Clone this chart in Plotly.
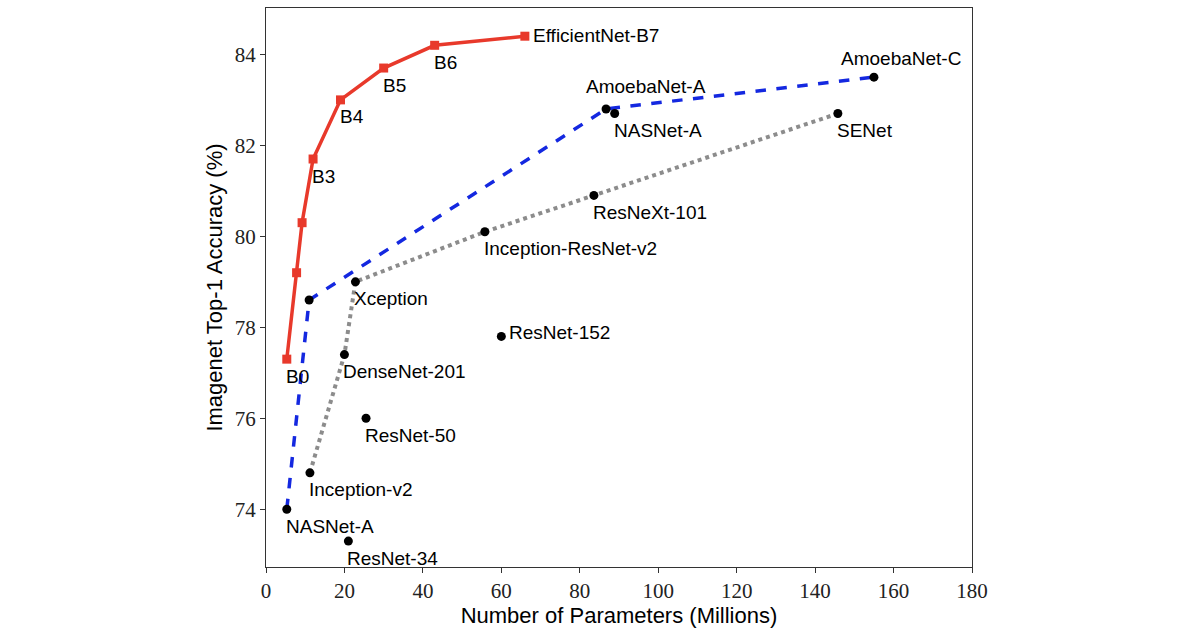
import plotly.graph_objects as go

# EfficientNet family
eff_names = ["B0", "B1", "B2", "B3", "B4", "B5", "B6", "EfficientNet-B7"]
eff_params = [5.3, 7.8, 9.2, 12, 19, 30, 43, 66]
eff_acc = [77.3, 79.2, 80.3, 81.7, 83.0, 83.7, 84.2, 84.4]
eff_show = [True, False, False, True, True, True, True, True]

# NASNet / AmoebaNet frontier (blue dashed)
nas_names = ["NASNet-A", "", "AmoebaNet-A", "AmoebaNet-C"]
nas_params = [5.3, 11, 86.7, 155]
nas_acc = [74.0, 78.6, 82.8, 83.5]

# Hand-designed frontier (gray dotted)
hand_names = ["Inception-v2", "DenseNet-201", "Xception", "Inception-ResNet-v2", "ResNeXt-101", "SENet"]
hand_params = [11.2, 20, 22.8, 55.8, 83.6, 145.8]
hand_acc = [74.8, 77.4, 79.0, 80.1, 80.9, 82.7]

# Other models (points only)
other_names = ["NASNet-A", "ResNet-152", "ResNet-50", "ResNet-34"]
other_params = [88.9, 60, 25.5, 21]
other_acc = [82.7, 77.8, 76.0, 73.3]

RED = "#e8392b"
BLUE = "#1428e0"
GRAY = "#8c8c8c"

fig = go.Figure()

fig.add_trace(go.Scatter(x=hand_params, y=hand_acc, mode="lines",
                         line=dict(color=GRAY, width=4, dash="dot"), showlegend=False))
fig.add_trace(go.Scatter(x=nas_params, y=nas_acc, mode="lines",
                         line=dict(color=BLUE, width=3.5, dash="dash"), showlegend=False))
fig.add_trace(go.Scatter(x=eff_params, y=eff_acc, mode="lines+markers",
                         line=dict(color=RED, width=3.5),
                         marker=dict(symbol="square", size=9, color=RED), showlegend=False))
fig.add_trace(go.Scatter(x=hand_params + nas_params + other_params,
                         y=hand_acc + nas_acc + other_acc, mode="markers",
                         marker=dict(color="black", size=9), showlegend=False))

label_font = dict(family="Liberation Sans, Arial, sans-serif", size=19, color="black")

def add_label(x, y, text, xshift=-1, yshift=-17):
    fig.add_annotation(x=x, y=y, text=text, showarrow=False, xanchor="left",
                       yanchor="middle", xshift=xshift, yshift=yshift, font=label_font)

special = {
    "EfficientNet-B7": (6, 1),
    "ResNet-152": (6, 4),
    "AmoebaNet-A": (-22, 22),
    "AmoebaNet-C": (-35, 19),
}

for n, x, y, s in zip(eff_names, eff_params, eff_acc, eff_show):
    if s:
        xs, ys = special.get(n, (-3, -17))
        add_label(x, y, n, xs, ys)
for names, xs_, ys_ in [(nas_names, nas_params, nas_acc),
                        (hand_names, hand_params, hand_acc),
                        (other_names, other_params, other_acc)]:
    for n, x, y in zip(names, xs_, ys_):
        if n:
            xs, ys = special.get(n, (-3, -17))
            add_label(x, y, n, xs, ys)

tick_font = dict(family="Liberation Serif, serif", size=21, color="#222")
title_font = dict(family="Liberation Sans, Arial, sans-serif", size=22, color="black")

fig.update_layout(
    width=1200, height=630,
    margin=dict(l=266, r=228, t=7, b=62),
    paper_bgcolor="white", plot_bgcolor="white",
    xaxis=dict(range=[0, 180], tickvals=[0, 20, 40, 60, 80, 100, 120, 140, 160, 180],
               showgrid=False, zeroline=False, showline=True, linecolor="#333", linewidth=1,
               mirror=True, ticks="outside", ticklen=5, tickcolor="#333", tickfont=tick_font,
               title=dict(text="Number of Parameters (Millions)", font=title_font, standoff=4)),
    yaxis=dict(range=[72.73, 85.02], tickvals=[74, 76, 78, 80, 82, 84],
               showgrid=False, zeroline=False, showline=True, linecolor="#333", linewidth=1,
               mirror=True, ticks="outside", ticklen=5, tickcolor="#333", tickfont=tick_font,
               title=dict(text="Imagenet Top-1 Accuracy (%)", font=title_font, standoff=6)),
)

fig.write_html("out.html")
